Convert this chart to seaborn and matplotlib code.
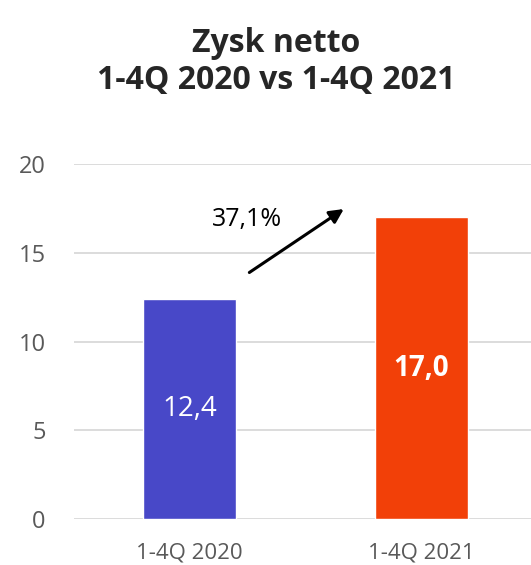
import matplotlib
matplotlib.use("Agg")
import matplotlib.pyplot as plt
import seaborn as sns
import pandas as pd

# Net profit, full years
periods = ["1-4Q 2020", "1-4Q 2021"]
profit = [12.4, 17.0]
value_labels = ["12,4", "17,0"]
growth_label = "37,1%"
bar_colors = ["#4848C8", "#F24008"]
y_ticks = [0, 5, 10, 15, 20]

sns.set_theme(style="white")
plt.rcParams["font.family"] = ["Open Sans", "DejaVu Sans"]

df = pd.DataFrame({"period": periods, "profit": profit})

fig = plt.figure(figsize=(5.31, 5.65), dpi=100)
ax = fig.add_axes([73.5 / 531, 1 - 519 / 565, 457.5 / 531, 355 / 565])

sns.barplot(data=df, x="period", y="profit", hue="period",
            palette=bar_colors, width=0.4, legend=False, ax=ax,
            saturation=1)

ax.set_ylim(0, 20)
ax.set_xlim(-0.5, -0.5 + 457.5 / 232)
ax.set_yticks(y_ticks)
ax.set_yticklabels([str(t) for t in y_ticks])
ax.yaxis.grid(True, color="#D9D9D9", linewidth=1.3)
ax.set_axisbelow(True)
for s in ax.spines.values():
    s.set_visible(False)
ax.set_xlabel("")
ax.set_ylabel("")
ax.tick_params(axis="y", length=0, pad=20, labelsize=17, labelcolor="#595959")
ax.tick_params(axis="x", length=0, pad=17, labelsize=16, labelcolor="#595959")

# value labels inside bars
for i, (v, txt) in enumerate(zip(profit, value_labels)):
    ax.text(i, v / 2, txt, ha="center", va="center", color="white",
            fontsize=20, fontweight="bold" if i == 1 else "normal")

# growth arrow between the bars
ax.annotate("", xy=(0.675, 17.55), xytext=(0.248, 13.8),
            arrowprops=dict(arrowstyle="-|>,head_length=0.7,head_width=0.35",
                            color="black", lw=2.2))
ax.text(0.248, 16.85, growth_label, ha="center", va="center",
        fontsize=18, color="black")

fig.text(276 / 531, 1 - 44 / 565, "Zysk netto", ha="center", va="center",
         fontsize=23, fontweight="bold")
fig.text(276 / 531, 1 - 80 / 565, "1-4Q 2020 vs 1-4Q 2021", ha="center",
         va="center", fontsize=23, fontweight="bold")

fig.savefig("out.png", dpi=100)
